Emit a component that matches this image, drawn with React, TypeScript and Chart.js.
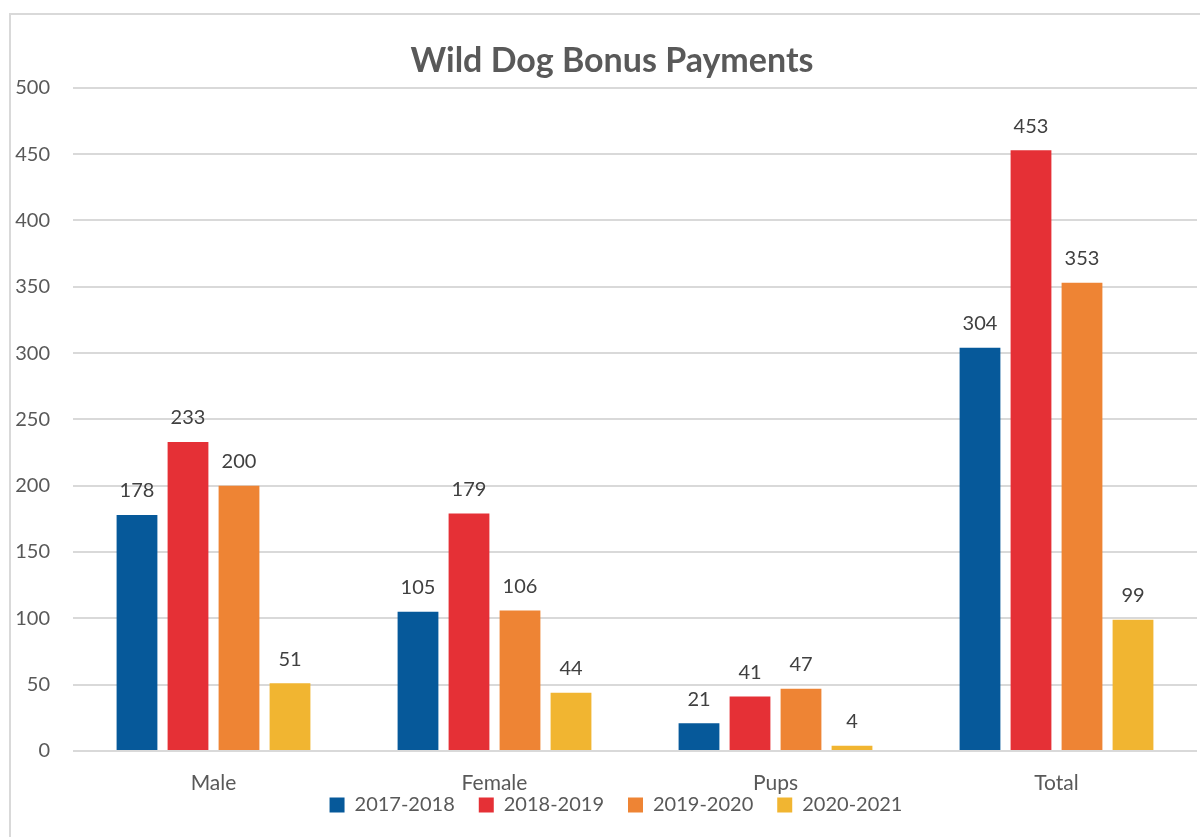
import React, { useEffect, useRef } from "react";
import { Chart, registerables } from "chart.js";

Chart.register(...registerables);

const categories = ["Male", "Female", "Pups", "Total"];
const seriesNames = ["2017-2018", "2018-2019", "2019-2020", "2020-2021"];
const values2017 = [178, 105, 21, 304];
const values2018 = [233, 179, 41, 453];
const values2019 = [200, 106, 47, 353];
const values2020 = [51, 44, 4, 99];
const seriesColors = ["#06599A", "#E53036", "#EE8434", "#F1B531"];
const yTicks = [0, 50, 100, 150, 200, 250, 300, 350, 400, 450, 500];

const FONT = "Lato, 'Open Sans', sans-serif";

const labelPlugin = {
  id: "barValueLabels",
  afterDatasetsDraw(chart: any) {
    const ctx = chart.ctx;
    ctx.save();
    ctx.font = `20px ${FONT}`;
    ctx.fillStyle = "#404040";
    ctx.textAlign = "center";
    ctx.textBaseline = "middle";
    chart.data.datasets.forEach((ds: any, i: number) => {
      const meta = chart.getDatasetMeta(i);
      meta.data.forEach((bar: any, j: number) => {
        ctx.fillText(String(ds.data[j]), bar.x, bar.y - 24);
      });
    });
    ctx.restore();
  },
};

// Centre the title and legend over the full (cropped) chart frame and
// place the legend just under the category labels.
const placementPlugin = {
  id: "placement",
  beforeLayout(chart: any) {
    const lg = chart.legend;
    if (lg && !lg.__wrapped) {
      const orig = lg.fit;
      lg.fit = function () {
        orig.call(this);
        this.height = 42;
      };
      lg.__wrapped = true;
    }
  },
  afterLayout(chart: any) {
    const t = chart.titleBlock;
    if (t) {
      t.left = 27;
      t.right = 1197;
      t.width = 1170;
    }
    const lg = chart.legend;
    if (lg) {
      lg.left = 31;
      lg.right = 1201;
      lg.width = 1170;
      lg.top = 771;
      lg.bottom = 825;
      lg.height = 54;
    }
  },
};

export default function App() {
  const ref = useRef<HTMLCanvasElement | null>(null);
  useEffect(() => {
    if (!ref.current) return;
    const all = [values2017, values2018, values2019, values2020];
    const chart = new Chart(ref.current, {
      type: "bar",
      data: {
        labels: categories,
        datasets: all.map((d, i) => ({
          label: seriesNames[i],
          data: d,
          backgroundColor: seriesColors[i],
          borderWidth: 0,
          barPercentage: 0.8,
          categoryPercentage: 0.726,
        })),
      },
      options: {
        animation: false,
        responsive: false,
        maintainAspectRatio: false,
        layout: { padding: { left: 0, right: 27, top: 0, bottom: 0 } },
        plugins: {
          title: {
            display: true,
            text: "Wild Dog Bonus Payments",
            color: "#595959",
            font: { family: FONT, size: 34, weight: "bold" },
            padding: { top: 41, bottom: 6 },
          },
          legend: {
            position: "bottom",
            labels: {
              color: "#595959",
              font: { family: FONT, size: 20 },
              boxWidth: 15,
              boxHeight: 15,
              padding: 24,
            },
          },
          tooltip: { enabled: false },
        },
        scales: {
          x: {
            grid: { display: false },
            border: { display: false },
            afterFit: (scale: any) => {
              scale.height = 44;
            },
            ticks: {
              color: "#595959",
              font: { family: FONT, size: 21 },
              padding: 12,
            },
          },
          y: {
            min: 0,
            max: 500,
            afterBuildTicks: (scale: any) => {
              scale.ticks = yTicks.map((v) => ({ value: v }));
            },
            afterFit: (scale: any) => {
              scale.width = 73;
            },
            grid: { color: "#D9D9D9", lineWidth: 2, drawTicks: false },
            border: { display: false },
            ticks: {
              color: "#595959",
              font: { family: FONT, size: 20 },
              padding: 23,
            },
          },
        },
      },
      plugins: [labelPlugin, placementPlugin],
    });
    return () => chart.destroy();
  }, []);

  return (
    <div
      style={{
        position: "fixed",
        left: 0,
        top: 0,
        width: 1200,
        height: 837,
        overflow: "hidden",
        background: "#fff",
      }}
    >
      <div
        style={{
          position: "absolute",
          left: 9,
          top: 13,
          width: 1230,
          height: 900,
          border: "2px solid #D9D9D9",
        }}
      />
      <canvas
        ref={ref}
        width={1224}
        height={837}
        style={{ position: "absolute", left: 0, top: 0, width: 1224, height: 837 }}
      />
    </div>
  );
}
